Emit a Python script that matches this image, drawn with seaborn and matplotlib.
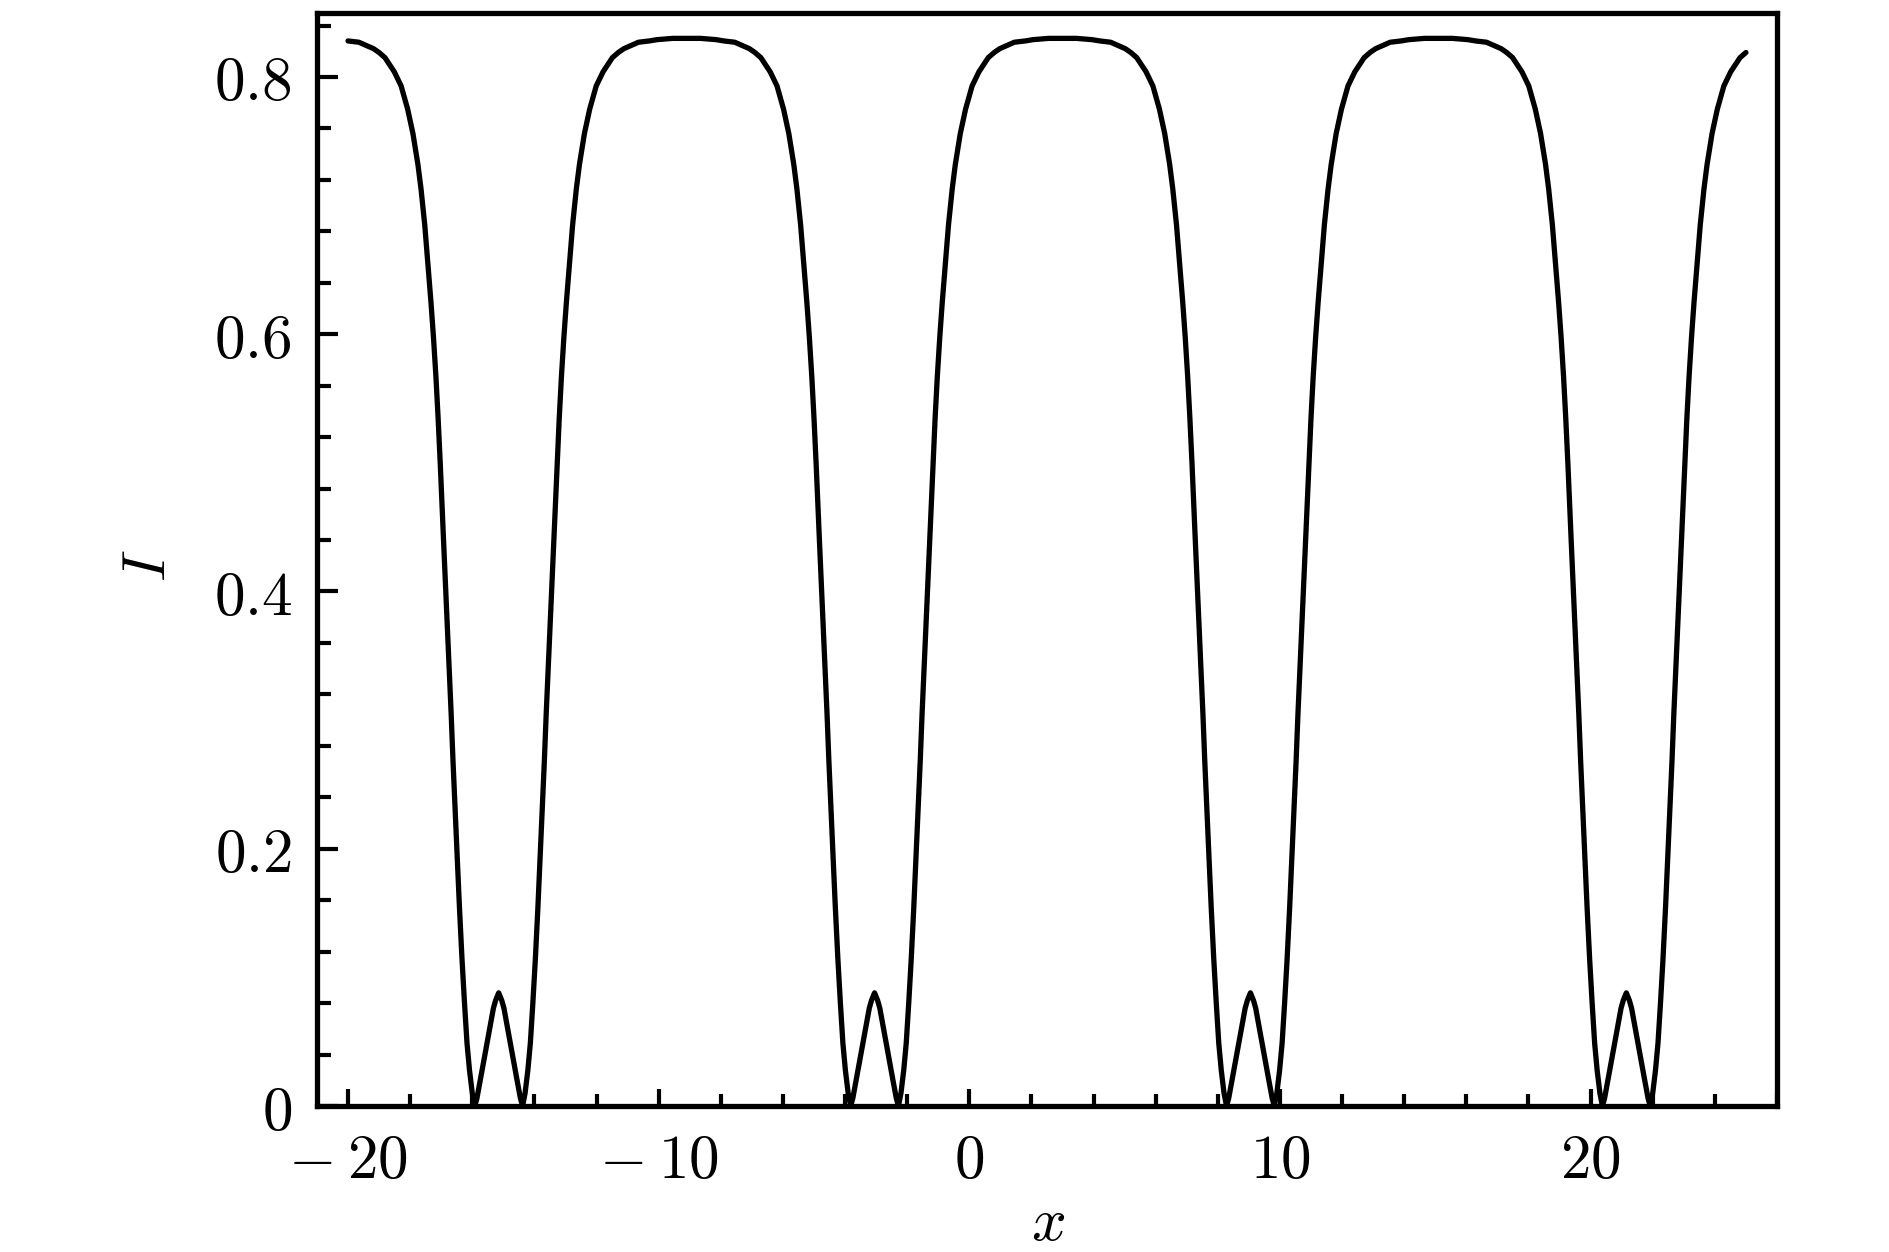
import matplotlib
matplotlib.use('Agg')
import matplotlib.pyplot as plt
from matplotlib.ticker import MultipleLocator, FuncFormatter
import seaborn as sns
import pandas as pd

dip_offset = [-6.05, -5.60, -5.10, -4.85, -4.50, -4.03, -3.85, -3.66, -3.36, -3.14,
              -2.93, -2.76, -2.60, -2.50, -2.38, -2.28, -2.18, -2.10, -2.02, -1.95,
              -1.88, -1.83, -1.77, -1.71, -1.65, -1.59, -1.53, -1.47, -1.40, -1.33,
              -1.26, -1.18, -1.10, -1.02, -0.94, -0.85, -0.77, -0.70, -0.60, -0.48,
              -0.39, -0.26, -0.17, -0.10, 0.00,
              0.10, 0.17, 0.26, 0.39, 0.48, 0.60, 0.70, 0.77, 0.85, 0.94,
              1.02, 1.10, 1.18, 1.26, 1.33, 1.40, 1.47, 1.53, 1.59, 1.65,
              1.71, 1.77, 1.83, 1.88, 1.95, 2.02, 2.10, 2.18, 2.28, 2.38,
              2.50, 2.60, 2.76, 2.93, 3.14, 3.36, 3.66, 3.85, 4.03, 4.50,
              4.85, 5.10, 5.60, 6.05]
dip_intensity = [0.830, 0.830, 0.829, 0.828, 0.827, 0.822, 0.819, 0.815, 0.804, 0.793,
                 0.775, 0.756, 0.732, 0.713, 0.685, 0.655, 0.625, 0.598, 0.567, 0.535,
                 0.499, 0.470, 0.437, 0.404, 0.371, 0.338, 0.305, 0.268, 0.229, 0.191,
                 0.153, 0.114, 0.080, 0.049, 0.028, 0.010, 0.000, 0.006, 0.019, 0.035,
                 0.047, 0.064, 0.076, 0.082, 0.088,
                 0.082, 0.076, 0.064, 0.047, 0.035, 0.019, 0.006, 0.000, 0.010, 0.028,
                 0.049, 0.080, 0.114, 0.153, 0.191, 0.229, 0.268, 0.305, 0.338, 0.371,
                 0.404, 0.437, 0.470, 0.499, 0.535, 0.567, 0.598, 0.625, 0.655, 0.685,
                 0.713, 0.732, 0.756, 0.775, 0.793, 0.804, 0.815, 0.819, 0.822, 0.827,
                 0.828, 0.829, 0.830, 0.830]

# centres of the four dips (small side peaks) and the plotted x range
dip_centres = [-15.15, -3.05, 9.05, 21.15]
x_start, x_end = -20.0, 25.0

x_ticks = [-20, -10, 0, 10, 20]
y_ticks = [0, 0.2, 0.4, 0.6, 0.8]

frames = []
for c in dip_centres:
    frames.append(pd.DataFrame({'x': [round(c + d, 3) for d in dip_offset],
                                'I': dip_intensity}))
df = pd.concat(frames).drop_duplicates('x').sort_values('x')
df = df[(df['x'] >= x_start - 1e-6) & (df['x'] <= x_end + 1e-6)]

sns.set_style('white')
plt.rcParams['mathtext.fontset'] = 'cm'
plt.rcParams['font.family'] = ['DejaVu Serif']
plt.rcParams['text.color'] = 'black'
plt.rcParams['axes.labelcolor'] = 'black'
plt.rcParams['xtick.color'] = 'black'
plt.rcParams['ytick.color'] = 'black'

fig = plt.figure(figsize=(9.45, 6.26), dpi=200)
ax = fig.add_axes([0.1677, 0.1166, 0.7725, 0.8733])

sns.lineplot(data=df, x='x', y='I', color='black', linewidth=1.9,
             estimator=None, sort=True, ax=ax)

ax.set_xlim(-21, 26)
ax.set_ylim(0, 0.85)


def fmt(v, pos):
    if v < 0:
        return rf'$-\:{abs(v):g}$'
    return f'${v:g}$'


ax.set_xticks(x_ticks)
ax.set_yticks(y_ticks)
ax.xaxis.set_minor_locator(MultipleLocator(2))
ax.yaxis.set_minor_locator(MultipleLocator(0.04))
ax.xaxis.set_major_formatter(FuncFormatter(fmt))
ax.yaxis.set_major_formatter(FuncFormatter(fmt))

ax.tick_params(axis='both', which='both', direction='in', width=1.5,
               bottom=True, left=True, top=False, right=False,
               labelsize=22, colors='black')
ax.tick_params(axis='x', which='major', length=6, pad=9)
ax.tick_params(axis='x', which='minor', length=4.3)
ax.tick_params(axis='y', which='major', length=7.5, pad=9)
ax.tick_params(axis='y', which='minor', length=5.2)

for s in ax.spines.values():
    s.set_visible(True)
    s.set_color('black')
    s.set_linewidth(1.9)

ax.set_xlabel('$x$', fontsize=22)
ax.set_ylabel('$I$', fontsize=22)
ax.xaxis.label.set_va('center')
ax.yaxis.label.set_va('center')
ax.xaxis.set_label_coords(0.501, -0.107)
ax.yaxis.set_label_coords(-0.116, 0.494)

fig.savefig('out.png', dpi=200, facecolor='white')
